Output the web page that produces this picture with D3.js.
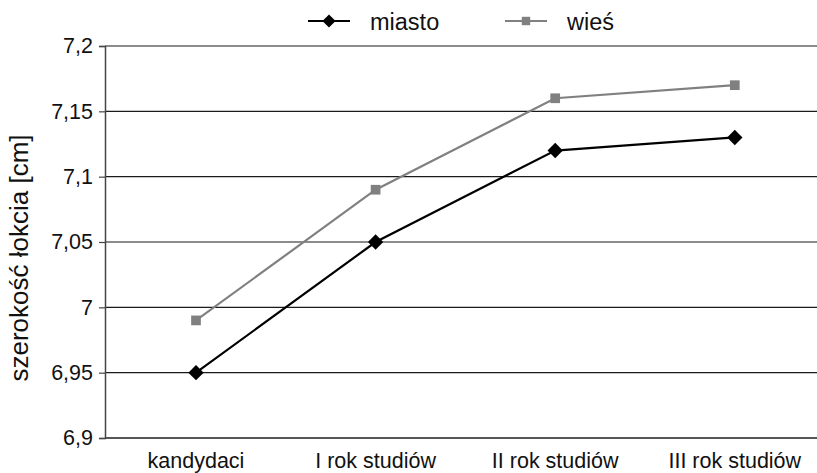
<!DOCTYPE html>
<html>
<head>
<meta charset="utf-8">
<script src="https://cdn.jsdelivr.net/npm/d3@7"></script>
<style>
  html, body { margin: 0; padding: 0; background: #fff; }
  svg { display: block; font-family: "Liberation Sans", Arial, Helvetica, sans-serif; }
</style>
</head>
<body>
<svg id="chart" width="817" height="473"></svg>
<script>
// Average elbow width by study stage, urban vs rural origin
const categories = ["kandydaci", "I rok studiów", "II rok studiów", "III rok studiów"];
const miasto = [6.95, 7.05, 7.12, 7.13];
const wies = [6.99, 7.09, 7.16, 7.17];
const yTicks = [6.9, 6.95, 7.0, 7.05, 7.1, 7.15, 7.2];
const seriesNames = ["miasto", "wieś"];

const svg = d3.select("#chart");
const margin = { left: 105, top: 46, bottom: 438 };
const step = 179.6;
const tickFont = 21.5;

const x = d3.scalePoint()
  .domain(categories)
  .range([196, 196 + step * 3]);

const y = d3.scaleLinear()
  .domain([6.9, 7.2])
  .range([margin.bottom, margin.top]);

const fmt = v => String(+v.toFixed(2)).replace(".", ",");
const right = 830;

// horizontal gridlines
svg.append("g")
  .selectAll("line")
  .data(yTicks)
  .join("line")
  .attr("x1", margin.left)
  .attr("x2", right)
  .attr("y1", d => y(d))
  .attr("y2", d => y(d))
  .attr("stroke", "#1a1a1a")
  .attr("stroke-width", 1.2);

// y axis
const yAxis = svg.append("g")
  .attr("transform", `translate(${margin.left},0)`)
  .call(d3.axisLeft(y).tickValues(yTicks).tickFormat(fmt).tickSize(6).tickPadding(6));
yAxis.attr("font-size", null).attr("font-family", null);
yAxis.select(".domain").attr("stroke", "#444").attr("stroke-width", 1.5);
yAxis.selectAll(".tick line").attr("stroke", "#444").attr("stroke-width", 1.2);
yAxis.selectAll(".tick text")
  .style("font-size", tickFont + "px")
  .attr("fill", "#111");

// x axis
svg.append("line")
  .attr("x1", margin.left).attr("x2", right)
  .attr("y1", margin.bottom).attr("y2", margin.bottom)
  .attr("stroke", "#444").attr("stroke-width", 1.5);

svg.append("g")
  .selectAll("text")
  .data(categories)
  .join("text")
  .attr("x", d => x(d))
  .attr("y", margin.bottom + 30)
  .attr("text-anchor", "middle")
  .style("font-size", tickFont + "px")
  .attr("fill", "#111")
  .text(d => d);

// y axis title
svg.append("text")
  .attr("transform", `translate(28,${(margin.top + margin.bottom) / 2 + 16}) rotate(-90)`)
  .attr("text-anchor", "middle")
  .style("font-size", "26px")
  .attr("fill", "#111")
  .text("szerokość łokcia [cm]");

const line = d3.line().x((d, i) => x(categories[i])).y(d => y(d));

const diamond = d3.symbol().type(d3.symbolDiamond2).size(150);
const square = d3.symbol().type(d3.symbolSquare2).size(120);

function drawSeries(values, color, sym) {
  svg.append("path")
    .datum(values)
    .attr("d", line)
    .attr("fill", "none")
    .attr("stroke", color)
    .attr("stroke-width", 2.2);
  svg.append("g")
    .selectAll("path")
    .data(values)
    .join("path")
    .attr("transform", (d, i) => `translate(${x(categories[i])},${y(d)})`)
    .attr("d", sym)
    .attr("fill", color);
}

drawSeries(wies, "#808080", square);
drawSeries(miasto, "#000000", diamond);

// legend
const legend = svg.append("g");
const legendItems = [
  { name: seriesNames[0], color: "#000", sym: d3.symbol().type(d3.symbolDiamond2).size(110), x: 308 },
  { name: seriesNames[1], color: "#808080", sym: d3.symbol().type(d3.symbolSquare2).size(90), x: 505 }
];
legendItems.forEach(it => {
  legend.append("line")
    .attr("x1", it.x).attr("x2", it.x + 42)
    .attr("y1", 21).attr("y2", 21)
    .attr("stroke", it.color).attr("stroke-width", 2.2);
  legend.append("path")
    .attr("transform", `translate(${it.x + 21},21)`)
    .attr("d", it.sym)
    .attr("fill", it.color);
  legend.append("text")
    .attr("x", it.x + 62)
    .attr("y", 30)
    .style("font-size", "23.5px")
    .attr("fill", "#111")
    .text(it.name);
});
</script>
</body>
</html>
